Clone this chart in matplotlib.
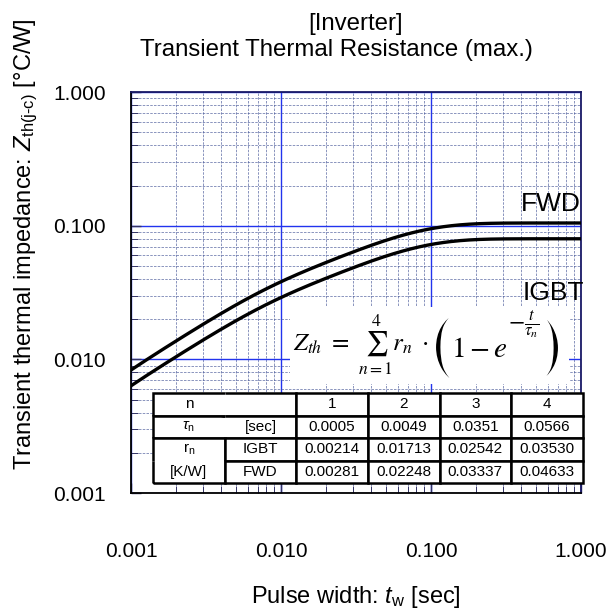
import numpy as np
import matplotlib.pyplot as plt
import matplotlib.patheffects as pe
from matplotlib.patches import Rectangle
from matplotlib.ticker import LogLocator, FixedLocator, FormatStrFormatter, NullFormatter

plt.rcParams['font.family'] = ['Liberation Sans', 'DejaVu Sans']
plt.rcParams['mathtext.fontset'] = 'custom'
plt.rcParams['mathtext.rm'] = 'Liberation Sans'
plt.rcParams['mathtext.it'] = 'Liberation Sans:italic'

# Foster model parameters (inverter, max.)
stages = ['1', '2', '3', '4']
tau = [0.0005, 0.0049, 0.0351, 0.0566]
r_igbt = [0.00214, 0.01713, 0.02542, 0.03530]
r_fwd = [0.00281, 0.02248, 0.03337, 0.04633]

t = np.logspace(-3, 0, 400)


def zth(r, tau_n):
    # Z_th(t) = sum r_n * (1 - exp(-t / tau_n))
    return sum(ri * (1 - np.exp(-t / ti)) for ri, ti in zip(r, tau_n))


fig = plt.figure(figsize=(6.13, 6.10), dpi=100)
ax = fig.add_axes([0.2137, 0.1918, 0.734, 0.657])

ax.plot(t, zth(r_fwd, tau), color='black', lw=2.4, zorder=3)
ax.plot(t, zth(r_igbt, tau), color='black', lw=2.4, zorder=3)

ax.set_xscale('log')
ax.set_yscale('log')
ax.set_xlim(0.001, 1)
ax.set_ylim(0.001, 1)

ticks = [0.001, 0.01, 0.1, 1]
ax.xaxis.set_major_locator(FixedLocator(ticks))
ax.yaxis.set_major_locator(FixedLocator(ticks))
ax.xaxis.set_minor_locator(LogLocator(base=10, subs=np.arange(2, 10)))
ax.yaxis.set_minor_locator(LogLocator(base=10, subs=np.arange(2, 10)))
ax.xaxis.set_major_formatter(FormatStrFormatter('%.3f'))
ax.yaxis.set_major_formatter(FormatStrFormatter('%.3f'))
ax.xaxis.set_minor_formatter(NullFormatter())
ax.yaxis.set_minor_formatter(NullFormatter())

ax.grid(which='major', color='#2233ee', lw=1.0, ls='-')
ax.grid(which='minor', color='#4a5a9a', lw=0.6, ls=(0, (3, 1.5)), alpha=0.75)
ax.set_axisbelow(True)

ax.tick_params(which='both', direction='in', color='#333366')
ax.tick_params(which='major', length=7, width=1)
ax.tick_params(which='minor', length=5, width=0.7)
ax.tick_params(axis='x', which='major', labelsize=15, pad=35)
ax.tick_params(axis='y', which='major', labelsize=15, pad=18)

for side in ['left', 'bottom']:
    ax.spines[side].set_color('black')
    ax.spines[side].set_linewidth(1.3)
for side in ['top', 'right']:
    ax.spines[side].set_color('#1a1a66')
    ax.spines[side].set_linewidth(1.3)

# two-line title, second line sits a little left of the first
ax.text(0.5, 1.155, '[Inverter]', transform=ax.transAxes, ha='center',
        va='baseline', fontsize=17.3)
ax.text(0.456, 1.09, 'Transient Thermal Resistance (max.)', transform=ax.transAxes,
        ha='center', va='baseline', fontsize=17.3)

ax.set_ylabel('Transient thermal impedance: $Z_{\\mathrm{th(j\\text{-}c)}}$ [°C/W]',
              fontsize=17)
ax.yaxis.set_label_coords(-0.203, 0.621)
ax.set_xlabel('Pulse width: $t_{\\mathrm{w}}$ [sec]', fontsize=17)
ax.xaxis.set_label_coords(0.5, -0.226)

ax.text(1.0, 0.72, 'FWD', transform=ax.transAxes, ha='right', va='center',
        fontsize=19, zorder=4)
ax.text(1.006, 0.50, 'IGBT', transform=ax.transAxes, ha='right', va='center',
        fontsize=19, zorder=4)

# formula box: white panel, sum term, tall brackets, exponential term
thin = [pe.Normal(), pe.Stroke(linewidth=2.2, foreground='white')]
ax.add_patch(Rectangle((0.353, 0.273), 0.62, 0.19, transform=ax.transAxes,
                       facecolor='white', edgecolor='none', zorder=4))
sum_part = ax.text(0.36, 0.37, r'$Z_{th}\ =\ \sum_{n=1}^{4} r_n\ \cdot$',
                   transform=ax.transAxes, ha='left', va='center', fontsize=18,
                   math_fontfamily='stix', zorder=5)
lpar = ax.annotate('(', xy=(1, 0.5), xycoords=sum_part, xytext=(1, -3),
                   textcoords='offset points', ha='left', va='center',
                   fontsize=62, fontfamily='STIXGeneral', zorder=5,
                   path_effects=thin)
one_e = ax.annotate(r'$1 - e$', xy=(1, 0.5), xycoords=lpar, xytext=(-6, 0),
                    textcoords='offset points', ha='left', va='center',
                    fontsize=21, math_fontfamily='stix', zorder=5)
expo = ax.annotate(r'$-\frac{t}{\tau_n}$', xy=(1, 0.8), xycoords=one_e,
                   xytext=(0, 0), textcoords='offset points', ha='left',
                   va='bottom', fontsize=17, math_fontfamily='stix', zorder=5)
ax.annotate(')', xy=(1, 0.5), xycoords=(expo, lpar), xytext=(-3, 0),
            textcoords='offset points', ha='left', va='center',
            fontsize=62, fontfamily='STIXGeneral', zorder=5,
            path_effects=thin)

# parameter table
cell_text = [
    ['n', ''] + stages,
    ['$\\tau_{\\mathrm{n}}$', '[sec]'] + [f'{v:.4f}' for v in tau],
    ['$\\mathrm{r_n}$', 'IGBT'] + [f'{v:.5f}' for v in r_igbt],
    ['[K/W]', 'FWD'] + [f'{v:.5f}' for v in r_fwd],
]
tbl_box = [0.049, 0.025, 0.955, 0.224]
ax.add_patch(Rectangle((tbl_box[0], tbl_box[1]), tbl_box[2], tbl_box[3],
                       transform=ax.transAxes, facecolor='white',
                       edgecolor='none', zorder=4.5))
tbl = ax.table(cellText=cell_text, cellLoc='center', bbox=tbl_box, zorder=5)
tbl.auto_set_font_size(False)
tbl.set_fontsize(11)
for (row, col), cell in tbl.get_celld().items():
    cell.set_linewidth(1.8)
    cell.set_edgecolor('black')
    cell.set_facecolor('white')
tbl[0, 0].visible_edges = 'LTB'
tbl[0, 1].visible_edges = 'RTB'
tbl[1, 0].visible_edges = 'LTB'
tbl[1, 1].visible_edges = 'RTB'
tbl[2, 0].visible_edges = 'LTR'
tbl[3, 0].visible_edges = 'LBR'

fig.savefig('out.png', dpi=100)
